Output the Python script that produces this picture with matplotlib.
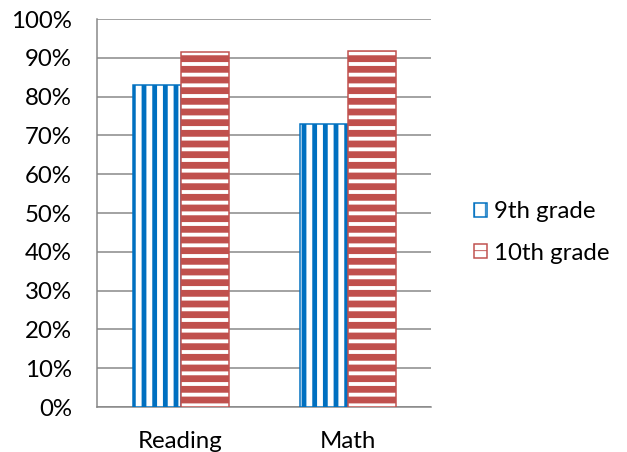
import matplotlib
matplotlib.use("Agg")
import matplotlib.pyplot as plt
import numpy as np
from matplotlib.ticker import PercentFormatter

# ===============================
# Data
# ===============================
subjects = ["Reading", "Math"]
grade9 = [0.830, 0.729]
grade10 = [0.914, 0.918]
series_labels = ["9th grade", "10th grade"]

# ===============================
# Style
# ===============================
DPI = 64
W, H = 627, 452
BLUE = "#0070C0"
RED = "#C0504D"
GRID = "#868686"


def px(v):
    # pixels -> points at this dpi
    return v * 72.0 / DPI


plt.rcParams["font.family"] = ["Lato", "DejaVu Sans"]
FS = px(24)

fig = plt.figure(figsize=(W / DPI, H / DPI), dpi=DPI)
ax = fig.add_axes([97 / W, (H - 407) / H, 334 / W, 388 / H])

x = np.arange(len(subjects))
bw = 48 / 167

with plt.rc_context({"hatch.linewidth": px(4.8)}):
    b9 = ax.bar(x - bw / 2, grade9, bw, facecolor="white", edgecolor=BLUE,
                hatch="|", linewidth=px(1.5), label=series_labels[0], zorder=3)
with plt.rc_context({"hatch.linewidth": px(6.8)}):
    b10 = ax.bar(x + bw / 2, grade10, bw, facecolor="white", edgecolor=RED,
                 hatch="-", linewidth=px(1.5), label=series_labels[1], zorder=3)

for bars, lw in ((b9, 4.8), (b10, 6.8)):
    for p in bars:
        if hasattr(p, "set_hatch_linewidth"):
            p.set_hatch_linewidth(px(lw))

ax.set_xlim(-0.5, 1.5)
ax.set_ylim(0, 1.0)
ax.set_yticks(np.arange(0, 1.01, 0.1))
ax.yaxis.set_major_formatter(PercentFormatter(1.0, decimals=0))
ax.set_xticks(x)
ax.set_xticklabels(subjects)

ax.grid(axis="y", color=GRID, linewidth=px(1.5), zorder=0)
ax.set_axisbelow(True)
for s in ("top", "right"):
    ax.spines[s].set_visible(False)
for s in ("left", "bottom"):
    ax.spines[s].set_color(GRID)
    ax.spines[s].set_linewidth(px(1.5))

ax.tick_params(axis="y", length=0, pad=px(25), labelsize=FS, labelcolor="black")
ax.tick_params(axis="x", length=0, pad=px(24), labelsize=FS, labelcolor="black")

leg = fig.legend(handles=[b9, b10], loc="center left",
                 bbox_to_anchor=(474 / W, (H - 232.5) / H),
                 frameon=False, fontsize=FS, borderpad=0, borderaxespad=0,
                 handlelength=0.55, handleheight=0.55, handletextpad=0.3,
                 labelspacing=0.85)

fig.savefig("out.png", dpi=DPI)
